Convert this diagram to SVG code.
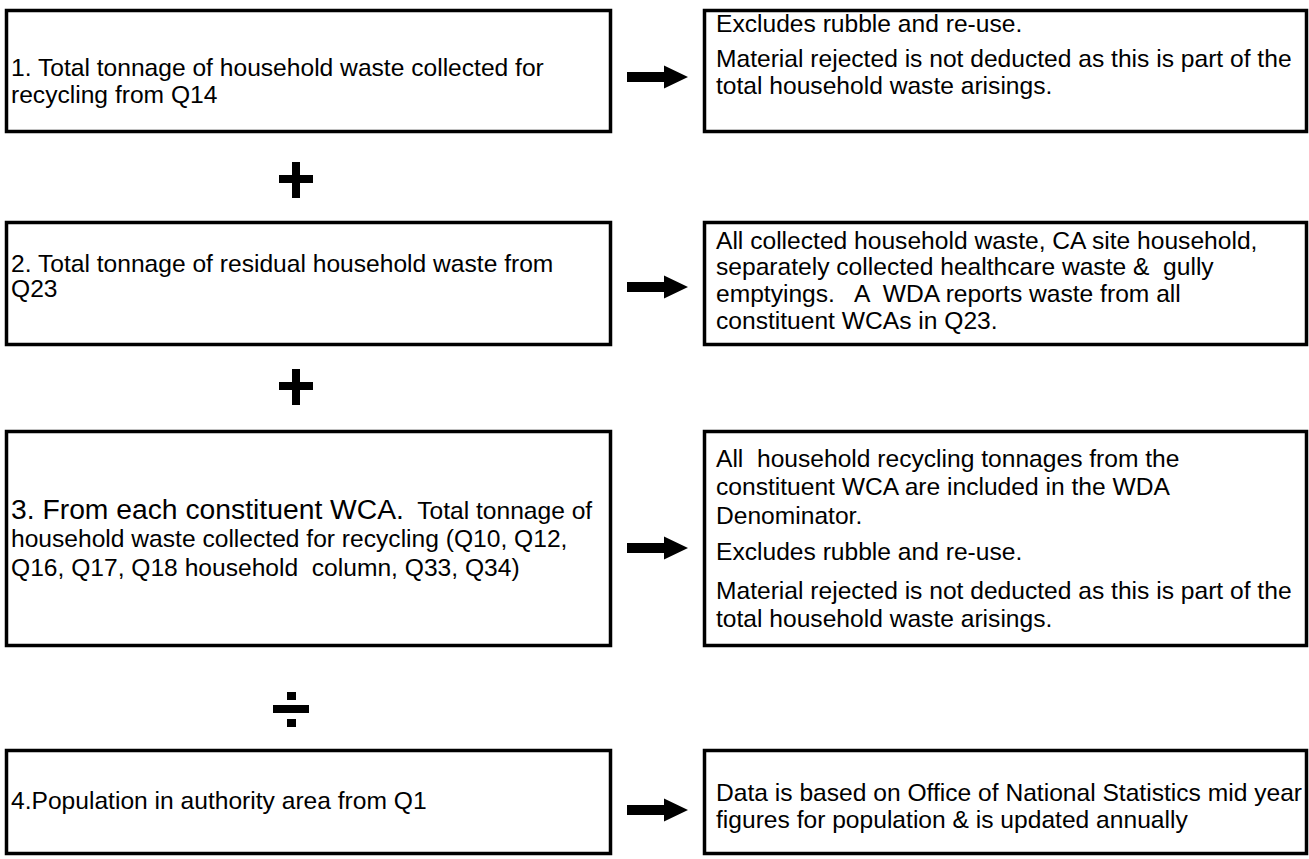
<svg xmlns="http://www.w3.org/2000/svg" xmlns:xlink="http://www.w3.org/1999/xlink" width="1309" height="859" viewBox="0 0 1309 859">
<style>
.box{fill:#fff;stroke:#000;stroke-width:3.5}
.t{font-family:"Liberation Sans",Arial,Helvetica,sans-serif;font-size:24px;fill:#000;white-space:pre}
.op{fill:#000}
</style>
<defs>
<path id="arr" d="M0,-5 H37 V-11.5 L61,0 L37,11.5 V5 H0 Z"/>
</defs>
<rect width="1309" height="859" fill="#fff"/>
<g id="box1">
<rect class="box" x="6.5" y="10.5" width="604" height="121"/>
<text class="t" transform="translate(11,76) scale(1.025,1)"><tspan x="0" y="0">1. Total tonnage of household waste collected for</tspan><tspan x="0" y="27">recycling from Q14</tspan></text>
</g>
<g id="note1">
<rect class="box" x="704.5" y="10.5" width="602" height="121"/>
<text class="t" transform="translate(716,31.5) scale(1.025,1)"><tspan x="0" y="0">Excludes rubble and re-use.</tspan><tspan x="0" y="36">Material rejected is not deducted as this is part of the</tspan><tspan x="0" y="63">total household waste arisings.</tspan></text>
</g>
<g id="box2">
<rect class="box" x="6.5" y="222.5" width="604" height="122"/>
<text class="t" transform="translate(11,271.5) scale(1.025,1)"><tspan x="0" y="0">2. Total tonnage of residual household waste from</tspan><tspan x="0" y="26">Q23</tspan></text>
</g>
<g id="note2">
<rect class="box" x="704.5" y="222.5" width="602" height="122"/>
<text class="t" transform="translate(716,248.5) scale(1.025,1)"><tspan x="0" y="0">All collected household waste, CA site household,</tspan><tspan x="0" y="27">separately collected healthcare waste &amp;  gully</tspan><tspan x="0" y="54">emptyings.   A  WDA reports waste from all</tspan><tspan x="0" y="81">constituent WCAs in Q23.</tspan></text>
</g>
<g id="box3">
<rect class="box" x="6.5" y="431.5" width="604" height="214"/>
<text class="t" transform="translate(11,518.5) scale(1.025,1)"><tspan x="0" y="0" font-size="27.6">3. From each constituent WCA.</tspan><tspan>  Total tonnage of</tspan><tspan x="0" y="29">household waste collected for recycling (Q10, Q12,</tspan><tspan x="0" y="58">Q16, Q17, Q18 household  column, Q33, Q34)</tspan></text>
</g>
<g id="note3">
<rect class="box" x="704.5" y="431.5" width="602" height="214"/>
<text class="t" transform="translate(716,466.5) scale(1.025,1)"><tspan x="0" y="0">All  household recycling tonnages from the</tspan><tspan x="0" y="29">constituent WCA are included in the WDA</tspan><tspan x="0" y="58">Denominator.</tspan><tspan x="0" y="94">Excludes rubble and re-use.</tspan><tspan x="0" y="133">Material rejected is not deducted as this is part of the</tspan><tspan x="0" y="161">total household waste arisings.</tspan></text>
</g>
<g id="box4">
<rect class="box" x="6.5" y="750.5" width="604" height="103"/>
<text class="t" transform="translate(11,808.5) scale(1.025,1)"><tspan x="0" y="0">4.Population in authority area from Q1</tspan></text>
</g>
<g id="note4">
<rect class="box" x="704.5" y="750.5" width="602" height="103"/>
<text class="t" transform="translate(716,800.5) scale(1.025,1)"><tspan x="0" y="0">Data is based on Office of National Statistics mid year</tspan><tspan x="0" y="28">figures for population &amp; is updated annually</tspan></text>
</g>
<g id="operators">
<path class="op" d="M292,162 h8 v13 h13 v8 h-13 v15 h-8 v-15 h-13 v-8 h13 Z"/>
<path class="op" d="M292,369 h8 v13 h13 v8 h-13 v15 h-8 v-15 h-13 v-8 h13 Z"/>
<rect class="op" x="287" y="692" width="9" height="8"/>
<rect class="op" x="273" y="705" width="36" height="8"/>
<rect class="op" x="287" y="719" width="9" height="8"/>
</g>
<g id="connectors">
<use xlink:href="#arr" x="627" y="77"/>
<use xlink:href="#arr" x="627" y="287"/>
<use xlink:href="#arr" x="627" y="548"/>
<use xlink:href="#arr" x="627" y="810"/>
</g>
</svg>
